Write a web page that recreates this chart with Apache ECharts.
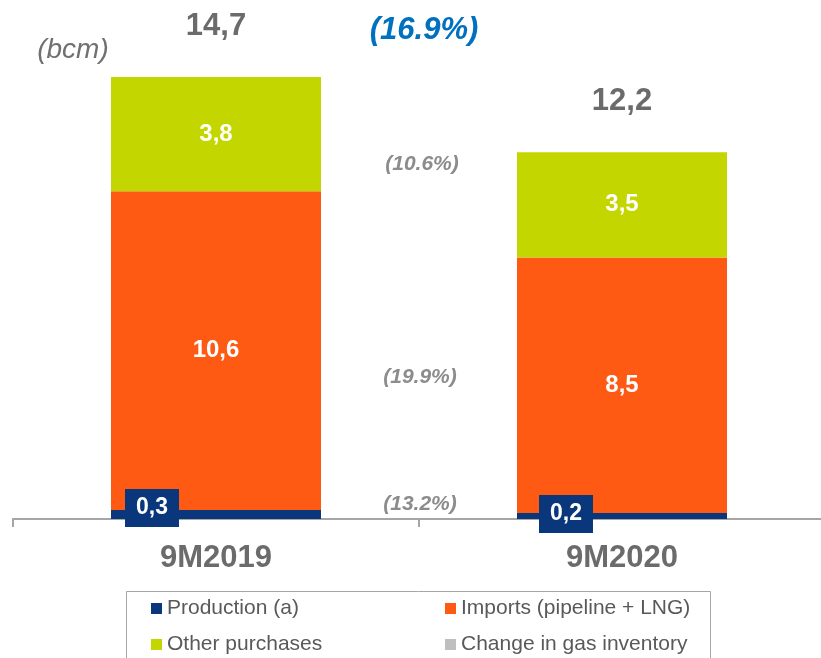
<!DOCTYPE html>
<html>
<head>
<meta charset="utf-8">
<script src="https://cdn.jsdelivr.net/npm/echarts@6/dist/echarts.min.js"></script>
<style>
html,body{margin:0;padding:0;background:#fff;overflow:hidden;}
#chart{width:826px;height:658px;}
</style>
</head>
<body>
<div id="chart"></div>
<script>
const categories = ['9M2019', '9M2020'];
const production = [0.3, 0.2];
const imports = [10.6, 8.5];
const otherPurchases = [3.8, 3.5];
const inventoryChange = [0, 0];
const totals = [14.7, 12.2];
const totalChange = '(16.9%)';
const segmentChanges = ['(10.6%)', '(19.9%)', '(13.2%)'];
const unitLabel = '(bcm)';
const seriesNames = ['Production (a)', 'Imports (pipeline + LNG)', 'Other purchases', 'Change in gas inventory'];

const FONT = '"Liberation Sans", Arial, sans-serif';
const fmt = v => (typeof v === 'object' ? v.value : v).toFixed(1).replace('.', ',');

const chart = echarts.init(document.getElementById('chart'), null, {renderer: 'canvas'});

const prodLabelPos = [[41, -2], [49, 1]];
const legendPos = [[151, 598], [445, 598], [151, 634], [445, 634]];

const option = {
  animation: false,
  textStyle: {fontFamily: FONT},
  grid: {left: 13, right: 1, top: 77, height: 442, containLabel: false},
  xAxis: {
    type: 'category',
    data: categories,
    boundaryGap: true,
    axisLine: {lineStyle: {color: '#a6a6a6', width: 2}},
    axisTick: {show: true, length: 8, lineStyle: {color: '#a6a6a6', width: 2}},
    axisLabel: {fontSize: 31, fontWeight: 'bold', color: '#6b6b6b', margin: 24, fontFamily: FONT}
  },
  yAxis: {type: 'value', min: 0, max: 14.7, show: false, splitLine: {show: false}},
  legend: seriesNames.map((n, i) => ({
    left: legendPos[i][0], top: legendPos[i][1], icon: 'rect',
    itemWidth: 11, itemHeight: 11, padding: 0,
    data: [n],
    textStyle: {fontSize: 21, color: '#595959', fontFamily: FONT}
  })),
  series: [
    {
      name: seriesNames[0], type: 'bar', stack: 'gas', barWidth: 210,
      itemStyle: {color: '#0a367b'},
      data: production.map((v, i) => ({
        value: v,
        label: {
          show: true, position: prodLabelPos[i], align: 'center', verticalAlign: 'middle',
          formatter: p => fmt(p.value),
          color: '#fff', fontSize: 23, fontWeight: 'bold', fontFamily: FONT,
          backgroundColor: '#0a367b', padding: [7, 11, 7, 11], lineHeight: 24
        }
      }))
    },
    {
      name: seriesNames[1], type: 'bar', stack: 'gas', barWidth: 210,
      itemStyle: {color: '#ff5a14'},
      label: {show: true, position: 'inside', formatter: p => fmt(p.value), color: '#fff', fontSize: 24, fontWeight: 'bold', fontFamily: FONT},
      data: imports
    },
    {
      name: seriesNames[2], type: 'bar', stack: 'gas', barWidth: 210,
      itemStyle: {color: '#c4d600'},
      label: {show: true, position: 'inside', formatter: p => fmt(p.value), color: '#fff', fontSize: 24, fontWeight: 'bold', fontFamily: FONT},
      data: otherPurchases
    },
    {
      name: seriesNames[3], type: 'bar', stack: 'gas', barWidth: 210,
      itemStyle: {color: '#bfbfbf'},
      data: inventoryChange
    },
    {
      name: 'Total', type: 'scatter', symbolSize: 0, silent: true,
      itemStyle: {opacity: 1},
      label: {show: true, position: 'top', distance: 35, formatter: p => fmt(p.value), color: '#6b6b6b', fontSize: 31, fontWeight: 'bold', fontFamily: FONT},
      data: totals
    }
  ],
  graphic: [
    {type: 'text', x: 73, y: 50, style: {text: unitLabel, font: 'italic 28px ' + FONT, fill: '#707070', textAlign: 'center', textVerticalAlign: 'middle'}},
    {type: 'text', x: 424, y: 30, style: {text: totalChange, font: 'italic bold 31px ' + FONT, fill: '#0070c0', textAlign: 'center', textVerticalAlign: 'middle'}},
    {type: 'text', x: 422, y: 164, style: {text: segmentChanges[0], font: 'italic bold 21px ' + FONT, fill: '#8c8c8c', textAlign: 'center', textVerticalAlign: 'middle'}},
    {type: 'text', x: 420, y: 377, style: {text: segmentChanges[1], font: 'italic bold 21px ' + FONT, fill: '#8c8c8c', textAlign: 'center', textVerticalAlign: 'middle'}},
    {type: 'text', x: 420, y: 504, style: {text: segmentChanges[2], font: 'italic bold 21px ' + FONT, fill: '#8c8c8c', textAlign: 'center', textVerticalAlign: 'middle'}},
    {type: 'rect', shape: {x: 126.5, y: 591.5, width: 584, height: 90}, style: {fill: 'none', stroke: '#a6a6a6', lineWidth: 1}, z: -1}
  ]
};
chart.setOption(option);
</script>
</body>
</html>
